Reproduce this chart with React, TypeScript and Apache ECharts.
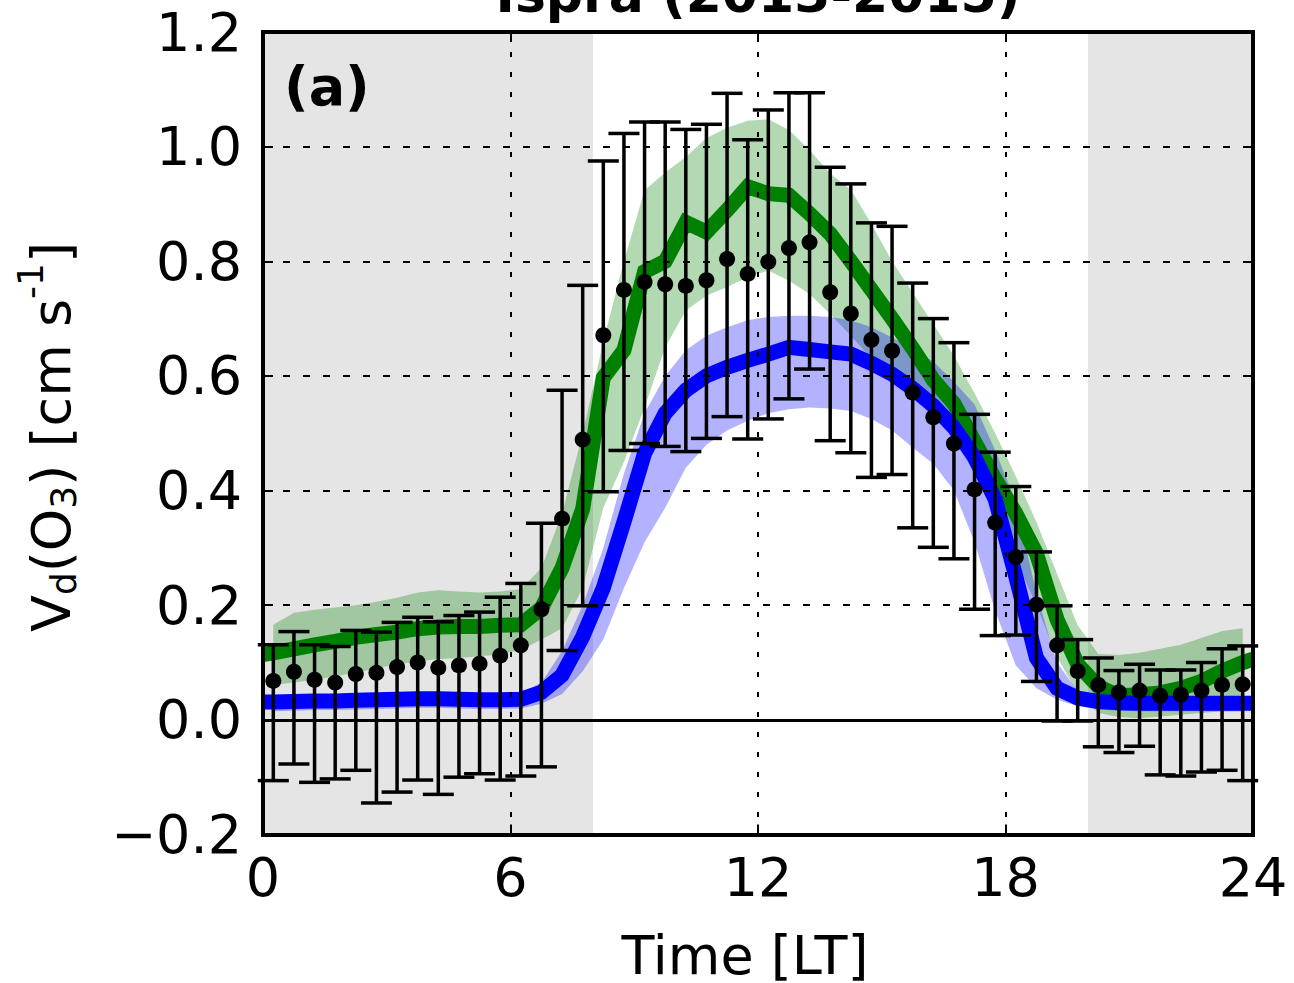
import { useEffect, useRef } from 'react';
import * as echarts from 'echarts';

// Observation times (LT), half-hourly bins
const hours = [
  0.25, 0.75, 1.25, 1.75, 2.25, 2.75, 3.25, 3.75, 4.25, 4.75, 5.25, 5.75,
  6.25, 6.75, 7.25, 7.75, 8.25, 8.75, 9.25, 9.75, 10.25, 10.75, 11.25, 11.75,
  12.25, 12.75, 13.25, 13.75, 14.25, 14.75, 15.25, 15.75, 16.25, 16.75, 17.25, 17.75,
  18.25, 18.75, 19.25, 19.75, 20.25, 20.75, 21.25, 21.75, 22.25, 22.75, 23.25, 23.75,
];

// Observed Vd(O3) mean (black dots)
const obsMean = [
  0.068, 0.084, 0.070, 0.065, 0.080, 0.082, 0.092, 0.100, 0.091, 0.095, 0.098, 0.112,
  0.130, 0.193, 0.351, 0.489, 0.671, 0.750, 0.764, 0.760, 0.757, 0.767, 0.804, 0.778,
  0.799, 0.823, 0.833, 0.746, 0.709, 0.663, 0.644, 0.571, 0.528, 0.482, 0.402, 0.344,
  0.284, 0.201, 0.130, 0.085, 0.061, 0.048, 0.051, 0.042, 0.044, 0.051, 0.061, 0.062,
];
// Error bar lower ends
const obsLow = [
  -0.106, -0.077, -0.109, -0.103, -0.088, -0.145, -0.126, -0.105, -0.130, -0.100, -0.094, -0.105,
  -0.098, -0.082, 0.121, 0.199, 0.398, 0.470, 0.482, 0.477, 0.468, 0.491, 0.529, 0.490,
  0.525, 0.560, 0.612, 0.487, 0.466, 0.423, 0.428, 0.335, 0.301, 0.281, 0.193, 0.147,
  0.148, 0.067, -0.002, -0.002, -0.047, -0.057, -0.046, -0.096, -0.098, -0.091, -0.088, -0.106,
];
// Error bar upper ends
const obsHigh = [
  0.131, 0.154, 0.131, 0.128, 0.156, 0.153, 0.170, 0.179, 0.171, 0.182, 0.188, 0.214,
  0.238, 0.343, 0.575, 0.758, 0.975, 1.023, 1.043, 1.043, 1.030, 1.039, 1.093, 1.012,
  1.064, 1.094, 1.094, 0.964, 0.935, 0.867, 0.861, 0.762, 0.700, 0.658, 0.533, 0.467,
  0.407, 0.293, 0.199, 0.140, 0.108, 0.086, 0.097, 0.087, 0.087, 0.100, 0.124, 0.129,
];

// Model curves (thick lines) – span the whole day
const modelHours = [
  0, 0.25, 0.75, 1.25, 1.75, 2.25, 2.75, 3.25, 3.75, 4.25, 4.75, 5.25, 5.75,
  6.25, 6.75, 7.25, 7.75, 8.25, 8.75, 9.25, 9.75, 10.25, 10.75, 11.25, 11.75,
  12.25, 12.75, 13.25, 13.75, 14.25, 14.75, 15.25, 15.75, 16.25, 16.75, 17.25, 17.75,
  18.25, 18.75, 19.25, 19.75, 20.25, 20.75, 21.25, 21.75, 22.25, 22.75, 23.25, 23.75, 24,
];
const greenModel = [
  0.114, 0.117, 0.124, 0.131, 0.137, 0.144, 0.149, 0.153, 0.159, 0.162, 0.163, 0.163, 0.165,
  0.166, 0.195, 0.265, 0.368, 0.597, 0.645, 0.782, 0.800, 0.868, 0.851, 0.889, 0.930,
  0.918, 0.915, 0.883, 0.848, 0.800, 0.750, 0.700, 0.648, 0.593, 0.552, 0.485, 0.420,
  0.360, 0.290, 0.175, 0.097, 0.058, 0.042, 0.044, 0.047, 0.055, 0.067, 0.085, 0.100, 0.106,
];
const blueModel = [
  0.031, 0.031, 0.032, 0.033, 0.033, 0.034, 0.035, 0.036, 0.037, 0.037, 0.036, 0.035, 0.035,
  0.036, 0.048, 0.078, 0.145, 0.230, 0.345, 0.465, 0.535, 0.575, 0.600, 0.615, 0.627,
  0.638, 0.650, 0.646, 0.642, 0.638, 0.622, 0.603, 0.578, 0.548, 0.510, 0.458, 0.385,
  0.250, 0.108, 0.055, 0.038, 0.032, 0.030, 0.029, 0.029, 0.029, 0.029, 0.029, 0.029, 0.029,
];

// Shaded uncertainty bands (on the observation hours)
const greenBandHigh = [
  0.166, 0.187, 0.192, 0.196, 0.200, 0.206, 0.213, 0.222, 0.226, 0.224, 0.222, 0.224,
  0.228, 0.265, 0.360, 0.500, 0.660, 0.800, 0.924, 0.955, 0.982, 1.015, 1.033, 1.045,
  1.048, 1.029, 0.994, 0.953, 0.925, 0.865, 0.800, 0.745, 0.690, 0.635, 0.570, 0.500,
  0.425, 0.345, 0.255, 0.165, 0.115, 0.113, 0.117, 0.124, 0.131, 0.143, 0.155, 0.160,
];
const greenBandLow = [
  0.061, 0.065, 0.070, 0.076, 0.082, 0.090, 0.097, 0.102, 0.106, 0.108, 0.111, 0.114,
  0.122, 0.140, 0.160, 0.230, 0.370, 0.450, 0.545, 0.650, 0.714, 0.740, 0.755, 0.772,
  0.784, 0.766, 0.743, 0.708, 0.670, 0.630, 0.600, 0.575, 0.540, 0.490, 0.430, 0.360,
  0.280, 0.200, 0.110, 0.045, 0.012, 0.005, 0.003, 0.006, 0.009, 0.012, 0.015, 0.015,
];
const blueBandHigh = [
  0.041, 0.042, 0.043, 0.043, 0.044, 0.045, 0.046, 0.047, 0.047, 0.046, 0.045, 0.045,
  0.047, 0.065, 0.120, 0.200, 0.300, 0.430, 0.535, 0.600, 0.645, 0.670, 0.685, 0.697,
  0.703, 0.705, 0.705, 0.703, 0.697, 0.685, 0.667, 0.647, 0.625, 0.590, 0.550, 0.470,
  0.380, 0.220, 0.100, 0.050, 0.042, 0.040, 0.039, 0.039, 0.039, 0.039, 0.039, 0.039,
];
const blueBandLow = [
  0.015, 0.016, 0.017, 0.017, 0.018, 0.019, 0.020, 0.021, 0.021, 0.020, 0.019, 0.019,
  0.020, 0.028, 0.045, 0.085, 0.140, 0.230, 0.310, 0.370, 0.440, 0.480, 0.505, 0.522,
  0.535, 0.542, 0.545, 0.543, 0.539, 0.525, 0.505, 0.475, 0.447, 0.400, 0.310, 0.190,
  0.095, 0.055, 0.035, 0.024, 0.018, 0.016, 0.015, 0.015, 0.015, 0.015, 0.015, 0.015,
];

// Night-time shading (LT)
const nightSpans = [
  [0, 8],
  [20, 24],
];

const titleText = 'Ispra (2013-2015)';
const panelLabel = '(a)';
const xAxisTitle = 'Time [LT]';
// y-axis title pieces: [text, role] where role m = normal, s = subscript, u = superscript
const yTitleParts: [string, string][] = [
  ['V', 'm'],
  ['d', 's'],
  ['(O', 'm'],
  ['3', 's'],
  [') [cm s', 'm'],
  ['-1', 'u'],
  [']', 'm'],
];

const FAMILY = '"DejaVu Sans", sans-serif';

function fmtY(v: number) {
  const s = Math.abs(v).toFixed(1);
  return v < -1e-9 ? '\u2212' + s : s;
}

function bandSeries(hi: number[], lo: number[], color: string, z: number) {
  return {
    type: 'custom',
    z,
    silent: true,
    clip: true,
    data: [[hours[0], hi[0]]],
    encode: { x: 0, y: 1 },
    renderItem: (_params: any, api: any) => {
      const pts: number[][] = [];
      for (let i = 0; i < hours.length; i++) pts.push(api.coord([hours[i], hi[i]]));
      for (let i = hours.length - 1; i >= 0; i--) pts.push(api.coord([hours[i], lo[i]]));
      return { type: 'polygon', shape: { points: pts }, style: { fill: color } };
    },
  };
}

function buildYTitle() {
  const ctx = document.createElement('canvas').getContext('2d') as CanvasRenderingContext2D;
  const sizes: Record<string, number> = { m: 54, s: 36, u: 36 };
  // offsets of the text middle (in the rotated frame, + = towards the axis)
  const offs: Record<string, number> = { m: 0, s: 11.5, u: -21.5 };
  let cursor = 0;
  const children: any[] = [];
  for (const [t, role] of yTitleParts) {
    const font = `${sizes[role]}px ${FAMILY}`;
    ctx.font = font;
    const w = ctx.measureText(t).width;
    children.push({
      type: 'text',
      x: cursor,
      y: offs[role],
      style: { text: t, fill: '#000', font, align: 'left', verticalAlign: 'middle' },
    });
    cursor += w;
  }
  const total = cursor;
  return {
    type: 'group',
    x: 51.5,
    y: 437 + total / 2,
    rotation: Math.PI / 2,
    z: 20,
    children,
  };
}

const axisCommonX = { type: 'value', min: 0, max: 24, interval: 6, z: 10 };
const axisCommonY = { type: 'value', min: -0.2, max: 1.2, interval: 0.2, z: 10 };
const frameLine = { show: true, onZero: false, lineStyle: { color: '#000', width: 4, cap: 'square' } };
const tickIn = { show: true, inside: true, length: 10, lineStyle: { color: '#000', width: 2 } };

export default function App() {
  const ref = useRef<HTMLDivElement>(null);
  useEffect(() => {
    if (!ref.current) return;
    const chart = echarts.init(ref.current, undefined, { renderer: 'svg' });
    const option: any = {
      animation: false,
      backgroundColor: '#fff',
      grid: { left: 263, right: 41, top: 32, bottom: 148.5, containLabel: false },
      xAxis: [
        {
          ...axisCommonX,
          position: 'bottom',
          axisLine: frameLine,
          axisTick: tickIn,
          axisLabel: { color: '#000', fontSize: 54, fontFamily: FAMILY, margin: 16, showMinLabel: true, showMaxLabel: true },
          splitLine: { show: true, lineStyle: { color: '#000', width: 2, type: [5, 15] } },
        },
        {
          ...axisCommonX,
          position: 'top',
          axisLine: frameLine,
          axisTick: tickIn,
          axisLabel: { show: false },
          splitLine: { show: false },
        },
      ],
      yAxis: [
        {
          ...axisCommonY,
          position: 'left',
          axisLine: frameLine,
          axisTick: tickIn,
          axisLabel: { color: '#000', fontSize: 54, fontFamily: FAMILY, margin: 21, formatter: fmtY, showMinLabel: true, showMaxLabel: true },
          splitLine: { show: true, lineStyle: { color: '#000', width: 2, type: [7, 13] } },
        },
        {
          ...axisCommonY,
          position: 'right',
          axisLine: frameLine,
          axisTick: tickIn,
          axisLabel: { show: false },
          splitLine: { show: false },
        },
      ],
      series: [
        {
          type: 'custom',
          z: -1,
          silent: true,
          data: nightSpans,
          encode: { x: [0, 1] },
          renderItem: (_p: any, api: any) => {
            const a = api.coord([api.value(0), 1.2]);
            const b = api.coord([api.value(1), -0.2]);
            return {
              type: 'rect',
              shape: { x: a[0], y: a[1], width: b[0] - a[0], height: b[1] - a[1] },
              style: { fill: '#e5e5e5' },
            };
          },
        },
        bandSeries(greenBandHigh, greenBandLow, 'rgba(0,128,0,0.3)', 2),
        bandSeries(blueBandHigh, blueBandLow, 'rgba(0,0,255,0.3)', 2),
        {
          type: 'line',
          z: 3,
          silent: true,
          showSymbol: false,
          data: modelHours.map((h, i) => [h, greenModel[i]]),
          lineStyle: { color: '#008000', width: 15, join: 'miter', opacity: 1 },
        },
        {
          type: 'line',
          z: 3,
          silent: true,
          showSymbol: false,
          data: modelHours.map((h, i) => [h, blueModel[i]]),
          lineStyle: { color: '#0000ff', width: 15, join: 'miter', opacity: 1 },
          markLine: {
            silent: true,
            symbol: 'none',
            label: { show: false },
            lineStyle: { color: '#000', width: 3, type: 'solid', opacity: 1 },
            data: [{ yAxis: 0 }],
          },
        },
        {
          type: 'custom',
          z: 4,
          silent: true,
          data: hours.map((h, i) => [h, obsLow[i], obsHigh[i]]),
          encode: { x: 0, y: [1, 2] },
          renderItem: (_p: any, api: any) => {
            const x = api.value(0);
            const pLo = api.coord([x, api.value(1)]);
            const pHi = api.coord([x, api.value(2)]);
            const hw = 15.5;
            const st = { stroke: '#000', lineWidth: 3.5 };
            return {
              type: 'group',
              children: [
                { type: 'line', shape: { x1: pLo[0], y1: pLo[1], x2: pHi[0], y2: pHi[1] }, style: st },
                { type: 'line', shape: { x1: pLo[0] - hw, y1: pLo[1], x2: pLo[0] + hw, y2: pLo[1] }, style: st },
                { type: 'line', shape: { x1: pHi[0] - hw, y1: pHi[1], x2: pHi[0] + hw, y2: pHi[1] }, style: st },
              ],
            };
          },
        },
        {
          type: 'scatter',
          z: 5,
          silent: true,
          symbol: 'circle',
          symbolSize: 16,
          itemStyle: { color: '#000', opacity: 1 },
          data: hours.map((h, i) => [h, obsMean[i]]),
        },
      ],
      graphic: [
        {
          type: 'text',
          x: 758,
          y: -6,
          z: 20,
          style: { text: titleText, fill: '#000', font: `bold 52px ${FAMILY}`, align: 'center', verticalAlign: 'middle' },
        },
        {
          type: 'text',
          x: 284,
          y: 86,
          z: 20,
          style: { text: panelLabel, fill: '#000', font: `bold 54px ${FAMILY}`, align: 'left', verticalAlign: 'middle' },
        },
        {
          type: 'text',
          x: 745,
          y: 955,
          z: 20,
          style: { text: xAxisTitle, fill: '#000', font: `54px ${FAMILY}`, align: 'center', verticalAlign: 'middle' },
        },
        buildYTitle(),
      ],
    };
    chart.setOption(option);
    return () => chart.dispose();
  }, []);
  return <div ref={ref} style={{ position: 'fixed', left: 0, top: 0, width: 1294, height: 983 }} />;
}
